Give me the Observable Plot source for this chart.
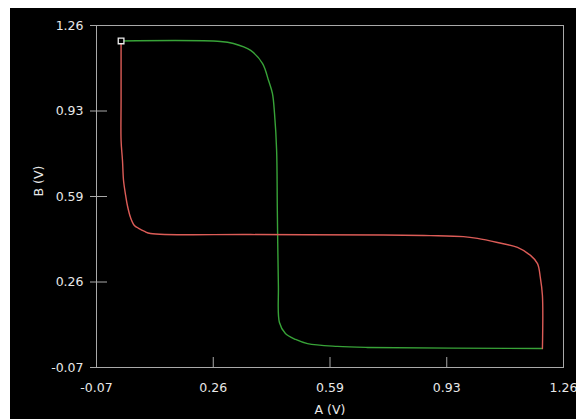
<!DOCTYPE html>
<html>
<head>
<meta charset="utf-8">
<script src="https://cdn.jsdelivr.net/npm/d3@7"></script>
<script src="https://cdn.jsdelivr.net/npm/@observablehq/plot@0.6"></script>
<style>
  html, body { margin: 0; padding: 0; background: #fff; }
  #wrap { width: 566px; height: 411px; padding: 8px 0 0 10px; background: #fff; overflow: hidden; }
</style>
</head>
<body>
<div id="wrap"></div>
<script>
// Axis ticks
const xTicks = [-0.07, 0.2625, 0.595, 0.9275, 1.26];
const xTickLabels = ["-0.07", "0.26", "0.59", "0.93", "1.26"];
const yTicks = [-0.07, 0.2625, 0.595, 0.9275, 1.26];
const yTickLabels = ["-0.07", "0.26", "0.59", "0.93", "1.26"];
const xLabel = "A (V)";
const yLabel = "B (V)";

// Red series (A as the response to B)
const redA = [0.000, 0.000, 0.000, 0.004, 0.007, 0.013, 0.018, 0.027, 0.038, 0.050, 0.067, 0.084, 0.369, 0.747, 0.881, 0.975, 1.015, 1.072, 1.129, 1.166, 1.186, 1.194, 1.200, 1.200];
const redB = [1.200, 0.968, 0.813, 0.735, 0.657, 0.599, 0.560, 0.513, 0.482, 0.471, 0.459, 0.451, 0.447, 0.445, 0.443, 0.439, 0.432, 0.416, 0.397, 0.366, 0.334, 0.280, 0.210, 0.004];

// Green series (B as the response to A)
const greenA = [0.000, 0.283, 0.320, 0.369, 0.403, 0.420, 0.431, 0.437, 0.443, 0.445, 0.448, 0.451, 0.468, 0.497, 0.531, 0.616, 0.702, 1.200];
const greenB = [1.200, 1.198, 1.190, 1.163, 1.112, 1.046, 0.996, 0.918, 0.774, 0.541, 0.249, 0.105, 0.062, 0.039, 0.023, 0.012, 0.008, 0.004];

// Start marker
const markerA = [0.0];
const markerB = [1.2];

const red = redA.map((a, i) => ({A: a, B: redB[i]}));
const green = greenA.map((a, i) => ({A: a, B: greenB[i]}));
const marker = markerA.map((a, i) => ({A: a, B: markerB[i]}));
const xMap = new Map(xTicks.map((t, i) => [t, xTickLabels[i]]));
const yMap = new Map(yTicks.map((t, i) => [t, yTickLabels[i]]));

const gray = "#a9a9a9";
const txt = "#e8e8e8";

const chart = Plot.plot({
  width: 566,
  height: 411,
  marginLeft: 86,
  marginRight: 13,
  marginTop: 17,
  marginBottom: 52,
  style: {background: "#000", color: txt, fontFamily: "DejaVu Sans, sans-serif", fontSize: "12.5px"},
  x: {domain: [-0.07, 1.26]},
  y: {domain: [-0.07, 1.26]},
  marks: [
    Plot.frame({stroke: gray}),
    Plot.ruleY(yTicks, {x1: -0.07, x2: -0.07, insetLeft: -6, insetRight: -11, stroke: gray}),
    Plot.ruleX(xTicks, {y1: -0.07, y2: -0.07, insetTop: -10, stroke: gray}),
    Plot.axisX({ticks: xTicks, tickFormat: d => xMap.get(d), tickSize: 0, tickPadding: 16, label: null, fill: txt}),
    Plot.axisY({ticks: yTicks, tickFormat: d => yMap.get(d), tickSize: 0, tickPadding: 13, label: null, fill: txt}),
    Plot.text([xLabel], {frameAnchor: "bottom", dy: 38, lineAnchor: "top", fill: txt}),
    Plot.text([yLabel], {frameAnchor: "left", dx: -58, rotate: -90, lineAnchor: "middle", fill: txt}),
    Plot.line(green, {x: "A", y: "B", stroke: "#38a338", strokeWidth: 1.4, curve: "catmull-rom"}),
    Plot.line(red, {x: "A", y: "B", stroke: "#dc5c57", strokeWidth: 1.4, curve: "catmull-rom"}),
    Plot.dot(marker, {x: "A", y: "B", symbol: "square", r: 3.2, stroke: "#eeeeee", strokeWidth: 1.3, fill: "#000"})
  ]
});
document.getElementById("wrap").appendChild(chart);
</script>
</body>
</html>
